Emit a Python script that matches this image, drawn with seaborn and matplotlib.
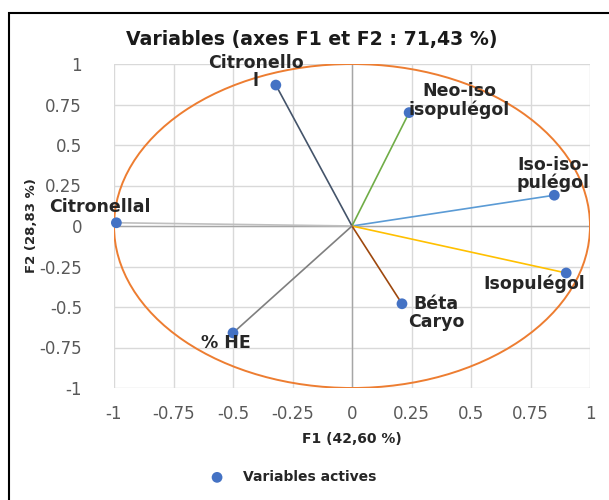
import matplotlib
matplotlib.use("Agg")
import matplotlib.pyplot as plt
import seaborn as sns
import pandas as pd
import numpy as np
from matplotlib.patches import Ellipse, Rectangle

# ---- data ----
variables = ["Citronellal", "Citronellol", "Neo-iso isopulégol", "Iso-iso-pulégol",
             "Isopulégol", "Béta Caryo", "% HE"]
labels = ["Citronellal", "Citronello\nl", "Neo-iso\nisopulégol", "Iso-iso-\npulégol",
          "Isopulégol", "Béta\nCaryo", "% HE"]
f1 = [-0.99, -0.32, 0.24, 0.85, 0.90, 0.21, -0.50]
f2 = [0.02, 0.87, 0.70, 0.19, -0.29, -0.48, -0.66]
tick_values = [-1, -0.75, -0.5, -0.25, 0, 0.25, 0.5, 0.75, 1]
tick_labels = ["-1", "-0.75", "-0.5", "-0.25", "0", "0.25", "0.5", "0.75", "1"]
title = "Variables (axes F1 et F2 : 71,43 %)"
xlabel = "F1 (42,60 %)"
ylabel = "F2 (28,83 %)"
legend_label = "Variables actives"

# ---- styles ----
line_colors = ["#BFBFBF", "#44546A", "#70AD47", "#5B9BD5", "#FFC000", "#9E480E", "#7F7F7F"]
label_offsets = [(-17, 16), (-20, 13), (50, 12), (-1, 21), (-32, -11), (34, -9), (-7, -10)]

sns.set_theme(style="white")
plt.rcParams["font.family"] = ["DejaVu Sans"]

df = pd.DataFrame({"F1": f1, "F2": f2, "var": variables, "label": labels})

fig = plt.figure(figsize=(6.09, 5.00), dpi=100)
ax = fig.add_axes([114 / 609, 1 - 388 / 500, 476 / 609, 324 / 500])

# frame around chart
fig.patches.append(Rectangle((9 / 609, -0.1), 1.2, 1 - 13 / 500 + 0.1,
                             transform=fig.transFigure, fill=False,
                             edgecolor="black", linewidth=1.5, clip_on=False))

# grid
ax.set_xlim(-1, 1)
ax.set_ylim(-1, 1)
ax.set_xticks(tick_values)
ax.set_yticks(tick_values)
ax.set_xticklabels(tick_labels)
ax.set_yticklabels(tick_labels)
ax.grid(True, color="#D9D9D9", linewidth=1.0)
for s in ax.spines.values():
    s.set_visible(False)
ax.axhline(0, color="#A6A6A6", linewidth=1.0, zorder=1)
ax.axvline(0, color="#A6A6A6", linewidth=1.0, zorder=1)
ax.tick_params(axis="both", length=0, labelsize=12, labelcolor="#595959")
ax.tick_params(axis="x", pad=12)
ax.tick_params(axis="y", pad=23)

# correlation circle
ax.add_patch(Ellipse((0, 0), 2, 2, fill=False, edgecolor="#ED7D31", linewidth=1.4, zorder=2))

# vectors
for x, y, c in zip(f1, f2, line_colors):
    ax.plot([0, x], [0, y], color=c, linewidth=1.2, zorder=3)

sns.scatterplot(data=df, x="F1", y="F2", ax=ax, color="#4472C4", s=60,
                edgecolor="none", zorder=4, label=legend_label, clip_on=False)

for (x, y, lab), (dx, dy) in zip(zip(f1, f2, labels), label_offsets):
    ax.annotate(lab, (x, y), xytext=(dx, dy), textcoords="offset pixels",
                ha="center", va="center", fontsize=12.5, fontweight="bold",
                color="#262626", linespacing=1.0, zorder=5)

ax.set_xlabel(xlabel, fontsize=10, fontweight="bold", color="#262626")
ax.set_ylabel(ylabel, fontsize=9.5, fontweight="bold", color="#262626")
ax.yaxis.set_label_coords(-0.16, 0.5)
ax.xaxis.set_label_coords(0.5, -0.135)

fig.text(312 / 609, 1 - 40 / 500, title, ha="center", va="center",
         fontsize=13.6, fontweight="bold", color="#1a1a1a")

leg = ax.legend(loc="center", bbox_to_anchor=(290 / 609, 1 - 477 / 500),
                bbox_transform=fig.transFigure, frameon=False,
                prop={"size": 10, "weight": "bold"}, handletextpad=0.9,
                markerscale=1.0)
for t in leg.get_texts():
    t.set_color("#262626")

fig.savefig("out.png", dpi=100)
